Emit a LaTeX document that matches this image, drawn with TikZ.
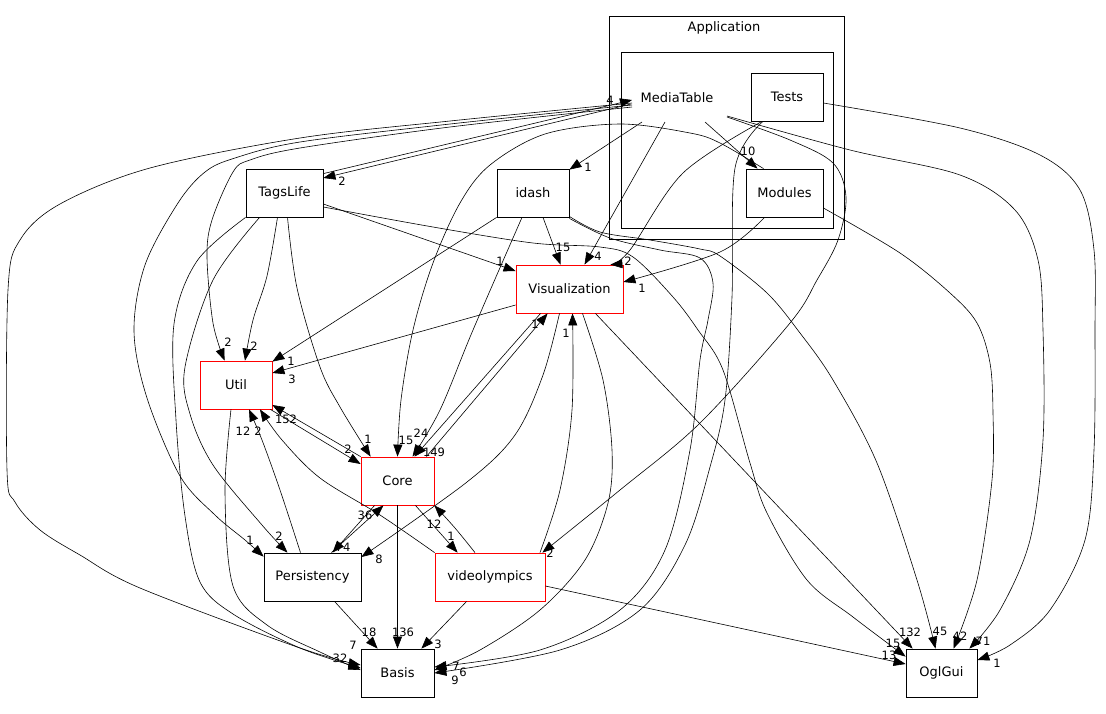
\documentclass[tikz,border=0pt]{standalone}
\usepackage{fontspec}
\setmainfont{DejaVu Sans}
\usetikzlibrary{arrows.meta,calc}
\begin{document}
\begin{tikzpicture}[x=1pt,y=-1pt,
  nbox/.style={draw=black,line width=0.8pt,minimum height=48pt,inner sep=0pt,font=\fontsize{13}{15}\selectfont},
  rbox/.style={nbox,draw=red},
  clus/.style={draw=black,line width=0.8pt,inner sep=0pt},
  ttl/.style={inner sep=0pt,font=\fontsize{13}{15}\selectfont},
  edge/.style={line width=0.6pt,-{Triangle[length=12pt,width=9pt]}},
  sm/.style={smooth,tension=0.55},
  lbl/.style={font=\fontsize{11.5}{13}\selectfont,inner sep=0pt}]
\useasboundingbox (0,0) rectangle (1106,713);
\fill[white] (0,0) rectangle (1106,713);
% clusters
\node[clus,minimum width=235pt,minimum height=223pt] (app) at (726.5,127.5) {};
\node[clus,minimum width=212pt,minimum height=176pt] (mtc) at (727,140) {};
\node[ttl] (apptitle) at (724,28) {Application};
\node[ttl] (mt) at (677,98) {MediaTable};
% nodes
\node[nbox,minimum width=72pt] (tests) at (787,97) {Tests};
\node[nbox,minimum width=77pt] (modules) at (784.5,193) {Modules};
\node[nbox,minimum width=77pt] (tagslife) at (284.5,193) {TagsLife};
\node[nbox,minimum width=72pt] (idash) at (533,193) {idash};
\node[rbox,minimum width=107pt] (vis) at (569.5,289) {Visualization};
\node[rbox,minimum width=72pt] (util) at (236,385) {Util};
\node[rbox,minimum width=73pt] (core) at (397.5,481) {Core};
\node[nbox,minimum width=97pt] (pers) at (312.5,577) {Persistency};
\node[rbox,minimum width=110pt] (video) at (490,577) {videolympics};
\node[nbox,minimum width=73pt] (basis) at (397.5,673) {Basis};
\node[nbox,minimum width=71pt] (ogl) at (941.5,673) {OglGui};

% edges from MediaTable
\draw[edge] ($(mt.center)+(-46,6)$) -- ($(tagslife.east)+(0,-15)$);
\draw[edge] ($(tagslife.north east)+(0,5)$) -- ($(mt.center)+(-45,2)$);
\draw[edge] plot[sm] coordinates {($(mt.center)+(-45,5)$) (450,121) (300,138) (150,168) (60,204) (20,240) (8,290) (7,470) (15,502) (40,530) (80,555) (140,588) (300,648) ($(basis.west)+(0,-8)$)};
\draw[edge] plot[sm] coordinates {($(mt.center)+(-45,7)$) (450,124) (300,142) (235,158) (205,172) (178,203) (145,265) (134,331) (147,398) (180,476) (215,515) (245,540) ($(pers.north west)+(0,4)$)};
\draw[edge] plot[sm] coordinates {($(mt.center)+(-45,9)$) (450,127) (300,148) (250,160) (233,172) (212,220) (207,257) (213,323) ($(util.north west)+(25,0)$)};
\draw[edge] ($(mt.center)+(-35,24)$) -- ($(idash.north east)+(0,1)$);
\draw[edge] ($(mt.center)+(-12,24)$) -- ($(vis.north)+(15,0)$);
\draw[edge] ($(mt.center)+(28,24)$) -- ($(modules.north)+(-27,0)$);
\draw[edge] plot[sm] coordinates {($(mt.center)+(50,19)$) (790,140) (833,163) (846,197) (838,240) (817,280) (790,323) (700,423) (620,490) ($(video.north east)+(-3,0)$)};
\draw[edge] plot[sm] coordinates {($(mt.center)+(50,18)$) (850,150) (960,175) (1015,210) (1038,260) (1043,330) (1043,440) (1030,540) (1000,610) ($(ogl.north east)+(-8,0)$)};

% TagsLife
\draw[edge] plot[sm] coordinates {($(tagslife.south)+(-7,0)$) (267,276) (253,320) ($(util.north)+(9,0)$)};
\draw[edge] plot[sm] coordinates {($(tagslife.south)+(3,0)$) (297,288) (320,367) (340,407) ($(core.north west)+(10,0)$)};
\draw[edge] ($(tagslife.east)+(0,11)$) -- ($(vis.west)+(0,-18)$);
\draw[edge] plot[sm] coordinates {($(tagslife.east)+(0,14)$) (433,227) (533,243) (600,247) (633,257) (673,297) (698,330) (723,370) (750,463) (767,513) (807,580) (853,617) ($(ogl.north west)+(0,8)$)};
\draw[edge] plot[sm] coordinates {($(tagslife.south west)+(14,0)$) (213,280) (185,367) (190,414) (213,465) (262,525) ($(pers.north)+(-25,0)$)};
\draw[edge] plot[sm] coordinates {(tagslife.south west) (197,261) (174,324) (176,420) (185,516) (200,582) (233,614) (300,648) ($(basis.west)+(0,-5)$)};

% Util
\draw[edge] plot[sm] coordinates {($(util.south)+(-5,0)$) (225,492) (233,586) (267,625) (320,652) ($(basis.west)+(0,-3)$)};
\draw[edge] ($(util.south east)+(-2,0)$) -- ($(core.west)+(0,-17)$);

% idash
\draw[edge] (idash.south west) -- ($(util.north east)+(0,1)$);
\draw[edge] plot[sm] coordinates {($(idash.south)+(-11,0)$) (473,330) (440,410) ($(core.north)+(15,0)$)};
\draw[edge] ($(idash.south)+(10,0)$) -- ($(vis.north)+(-9,0)$);
\draw[edge] plot[sm] coordinates {($(idash.south east)+(0,-1)$) (600,232) (650,240) (700,249) (720,256) (767,293) (800,333) (833,380) (877,463) (917,580) ($(ogl.north)+(-6,0)$)};
\draw[edge] plot[sm] coordinates {($(idash.south east)+(0,1)$) (610,238) (660,250) (700,258) (713,283) (708,320) (700,360) (690,450) (665,550) (620,610) (540,650) ($(basis.east)+(0,-6)$)};

% Tests, Modules
\draw[edge] plot[sm] coordinates {($(tests.south)+(-25,0)$) (683,173) (630,250) ($(vis.north east)+(-13,0)$)};
\draw[edge] plot[sm] coordinates {($(modules.south)+(-20,0)$) (720,252) ($(vis.east)+(0,-7)$)};
\draw[edge] plot[sm] coordinates {($(modules.north)+(-21,0)$) (720,143) (690,133) (620,124) (545,134) (490,165) (460,203) (433,263) (413,330) (401,400) (core.north)};
\draw[edge] plot[sm] coordinates {($(modules.east)+(0,15)$) (900,253) (950,293) (977,323) (990,363) (993,413) (992,480) (977,580) ($(ogl.north)+(12,0)$)};
\draw[edge] plot[sm] coordinates {($(tests.east)+(0,6)$) (960,128) (1040,155) (1080,190) (1094,250) (1095,330) (1094,450) (1085,540) (1050,610) (1010,645) ($(ogl.east)+(0,-13)$)};
\draw[edge] plot[sm] coordinates {($(tests.south)+(-24,0)$) (735,168) (732,297) (725,400) (710,467) (685,545) (640,610) (560,650) (basis.east)};

% Visualization
\draw[edge] ($(vis.west)+(0,16)$) -- ($(util.east)+(0,-12)$);
\draw[edge] ($(vis.south west)+(25,0)$) -- ($(core.north)+(17,0)$);
\draw[edge] ($(core.north east)+(-8,0)$) -- ($(vis.south west)+(32,0)$);
\draw[edge] plot[sm] coordinates {($(vis.south)+(-10,0)$) (543,375) (515,435) (467,482) ($(pers.east)+(0,-20)$)};
\draw[edge] plot[sm] coordinates {($(vis.south)+(13,0)$) (603,380) (612,450) (608,503) (585,560) (540,610) (480,650) ($(basis.east)+(0,-3)$)};
\draw[edge] ($(vis.south east)+(-28,0)$) -- ($(ogl.north west)+(7,0)$);

% Core
\draw[edge] (core.north west) -- ($(util.east)+(0,20)$);
\draw[edge] ($(core.south west)+(14,0)$) -- ($(pers.north)+(20,0)$);
\draw[edge] ($(core.south east)+(-19,0)$) -- ($(video.north west)+(23,0)$);
\draw[edge] (core.south) -- (basis.north);

% Persistency
\draw[edge] plot[sm] coordinates {($(pers.north)+(-12,0)$) (280,490) (262,440) ($(util.south)+(13,0)$)};
\draw[edge] ($(pers.north east)+(-30,0)$) -- ($(core.south)+(-14,0)$);
\draw[edge] ($(pers.south)+(22,0)$) -- ($(basis.north west)+(17,0)$);

% videolympics
\draw[edge] plot[sm] coordinates {($(video.north)+(50,0)$) (560,490) (572,410) ($(vis.south)+(3,0)$)};
\draw[edge] plot[sm] coordinates {(video.north west) (380,515) (320,478) (282,440) ($(util.south)+(24,0)$)};
\draw[edge] plot[sm] coordinates {($(video.north)+(-15,0)$) (455,528) (core.south east)};
\draw[edge] ($(video.south west)+(32,0)$) -- ($(basis.north east)+(-13,0)$);
\draw[edge] ($(video.east)+(0,9)$) -- ($(ogl.west)+(0,-9)$);

% labels
\node[lbl] (a1) at (342,181) {2};
\node[lbl] (a2) at (610,100) {4};
\node[lbl] (a3) at (340,658) {32};
\node[lbl] (a4) at (353,645) {7};
\node[lbl] (a5) at (250,540) {1};
\node[lbl] (a6) at (228,342) {2};
\node[lbl] (a7) at (254,346) {2};
\node[lbl] (a8) at (368,439) {1};
\node[lbl] (a9) at (500,261) {1};
\node[lbl] (a10) at (893,643) {15};
\node[lbl] (a11) at (279,536) {2};
\node[lbl] (a12) at (291,361) {1};
\node[lbl] (a13) at (421,433) {24};
\node[lbl] (a14) at (563,247) {15};
\node[lbl] (a15) at (940,631) {45};
\node[lbl] (a16) at (456,666) {7};
\node[lbl] (a17) at (588,167) {1};
\node[lbl] (a18) at (598,256) {4};
\node[lbl] (a19) at (628,261) {2};
\node[lbl] (a20) at (642,288) {1};
\node[lbl] (a21) at (748,151) {10};
\node[lbl] (a22) at (406,440) {15};
\node[lbl] (a23) at (292,379) {3};
\node[lbl] (a24) at (434,452) {149};
\node[lbl] (a25) at (535,324) {1};
\node[lbl] (a26) at (379,559) {8};
\node[lbl] (a27) at (463,672) {6};
\node[lbl] (a28) at (910,632) {132};
\node[lbl] (a29) at (566,333) {1};
\node[lbl] (a30) at (348,449) {2};
\node[lbl] (a31) at (286,419) {152};
\node[lbl] (a32) at (243,431) {12};
\node[lbl] (a33) at (258,431) {2};
\node[lbl] (a34) at (365,515) {36};
\node[lbl] (a35) at (343,547) {74};
\node[lbl] (a36) at (451,536) {1};
\node[lbl] (a37) at (434,524) {12};
\node[lbl] (a38) at (403,632) {136};
\node[lbl] (a39) at (369,632) {18};
\node[lbl] (a40) at (438,644) {3};
\node[lbl] (a41) at (889,655) {13};
\node[lbl] (a42) at (550,553) {2};
\node[lbl] (a43) at (983,641) {71};
\node[lbl] (a44) at (960,636) {42};
\node[lbl] (a45) at (997,663) {1};
\node[lbl] (a46) at (455,680) {9};
\end{tikzpicture}
\end{document}
